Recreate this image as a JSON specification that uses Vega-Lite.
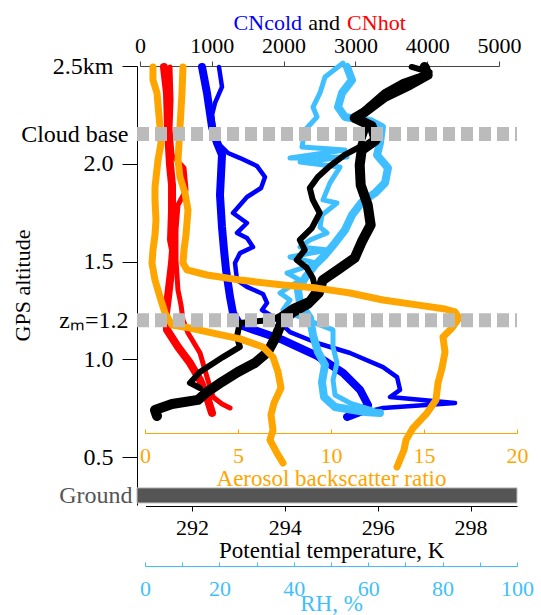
{
"$schema": "https://vega.github.io/schema/vega-lite/v6.json",
"width": 380,
"height": 439,
"autosize": {"type": "none"},
"padding": {"left": 137, "top": 66, "right": 24, "bottom": 110},
"background": "white",
"config": {
  "font": "Liberation Serif, Times New Roman, serif",
  "view": {"stroke": null},
  "style": {"guide-label": {"font": "Liberation Serif, Times New Roman, serif"}, "guide-title": {"font": "Liberation Serif, Times New Roman, serif"}},
  "axis": {"labelFont": "Liberation Serif, Times New Roman, serif", "titleFont": "Liberation Serif, Times New Roman, serif", "labelFontSize": 22, "titleFontSize": 23, "titleFontWeight": "normal", "grid": false, "labelColor": "black", "titleColor": "black", "domainColor": "black", "tickColor": "black", "labelFlush": false, "labelOverlap": false, "labelBound": false}
},
"datasets": {
  "cn": [
    {"s":"hot1","i":0,"v":334,"a":2.495},{"s":"hot1","i":1,"v":376,"a":2.362},{"s":"hot1","i":2,"v":390,"a":2.188},{"s":"hot1","i":3,"v":404,"a":2.086},{"s":"hot1","i":4,"v":418,"a":1.994},{"s":"hot1","i":5,"v":446,"a":1.891},{"s":"hot1","i":6,"v":446,"a":1.763},{"s":"hot1","i":7,"v":432,"a":1.610},{"s":"hot1","i":8,"v":460,"a":1.559},{"s":"hot1","i":9,"v":446,"a":1.492},{"s":"hot1","i":10,"v":418,"a":1.405},{"s":"hot1","i":11,"v":390,"a":1.318},{"s":"hot1","i":12,"v":362,"a":1.237},{"s":"hot1","i":13,"v":376,"a":1.150},{"s":"hot1","i":14,"v":529,"a":1.063},{"s":"hot1","i":15,"v":696,"a":0.981},{"s":"hot1","i":16,"v":836,"a":0.894},{"s":"hot1","i":17,"v":933,"a":0.807},{"s":"hot1","i":18,"v":1003,"a":0.725},
    {"s":"hot2","i":0,"v":418,"a":2.495},{"s":"hot2","i":1,"v":432,"a":2.326},{"s":"hot2","i":2,"v":418,"a":2.173},{"s":"hot2","i":3,"v":446,"a":2.045},{"s":"hot2","i":4,"v":613,"a":1.978},{"s":"hot2","i":5,"v":641,"a":1.866},{"s":"hot2","i":6,"v":529,"a":1.789},{"s":"hot2","i":7,"v":501,"a":1.661},{"s":"hot2","i":8,"v":501,"a":1.508},{"s":"hot2","i":9,"v":529,"a":1.354},{"s":"hot2","i":10,"v":571,"a":1.278},{"s":"hot2","i":11,"v":599,"a":1.201},{"s":"hot2","i":12,"v":669,"a":1.134},{"s":"hot2","i":13,"v":836,"a":1.032},{"s":"hot2","i":14,"v":933,"a":0.909},{"s":"hot2","i":15,"v":1017,"a":0.807},{"s":"hot2","i":16,"v":1142,"a":0.771},{"s":"hot2","i":17,"v":1254,"a":0.751},
    {"s":"cold1","i":0,"v":864,"a":2.495},{"s":"cold1","i":1,"v":933,"a":2.362},{"s":"cold1","i":2,"v":1003,"a":2.188},{"s":"cold1","i":3,"v":1073,"a":2.106},{"s":"cold1","i":4,"v":1142,"a":2.045},{"s":"cold1","i":5,"v":1128,"a":1.942},{"s":"cold1","i":6,"v":1114,"a":1.840},{"s":"cold1","i":7,"v":1142,"a":1.676},{"s":"cold1","i":8,"v":1170,"a":1.559},{"s":"cold1","i":9,"v":1198,"a":1.457},{"s":"cold1","i":10,"v":1254,"a":1.318},{"s":"cold1","i":11,"v":1295,"a":1.237},{"s":"cold1","i":12,"v":1393,"a":1.175},{"s":"cold1","i":13,"v":1672,"a":1.139},{"s":"cold1","i":14,"v":1992,"a":1.098},{"s":"cold1","i":15,"v":2466,"a":1.017},{"s":"cold1","i":16,"v":2828,"a":0.930},{"s":"cold1","i":17,"v":3065,"a":0.843},{"s":"cold1","i":18,"v":3176,"a":0.766},{"s":"cold1","i":19,"v":3065,"a":0.730},{"s":"cold1","i":20,"v":2884,"a":0.705},
    {"s":"cold2","i":0,"v":1100,"a":2.495},{"s":"cold2","i":1,"v":1142,"a":2.393},{"s":"cold2","i":2,"v":1045,"a":2.311},{"s":"cold2","i":3,"v":1003,"a":2.249},{"s":"cold2","i":4,"v":1031,"a":2.173},{"s":"cold2","i":5,"v":1114,"a":2.096},{"s":"cold2","i":6,"v":1226,"a":2.055},{"s":"cold2","i":7,"v":1393,"a":2.029},{"s":"cold2","i":8,"v":1630,"a":1.988},{"s":"cold2","i":9,"v":1741,"a":1.932},{"s":"cold2","i":10,"v":1686,"a":1.876},{"s":"cold2","i":11,"v":1490,"a":1.830},{"s":"cold2","i":12,"v":1295,"a":1.748},{"s":"cold2","i":13,"v":1490,"a":1.697},{"s":"cold2","i":14,"v":1351,"a":1.646},{"s":"cold2","i":15,"v":1490,"a":1.620},{"s":"cold2","i":16,"v":1574,"a":1.574},{"s":"cold2","i":17,"v":1393,"a":1.543},{"s":"cold2","i":18,"v":1323,"a":1.492},{"s":"cold2","i":19,"v":1351,"a":1.405},{"s":"cold2","i":20,"v":1490,"a":1.370},{"s":"cold2","i":21,"v":1713,"a":1.334},{"s":"cold2","i":22,"v":1769,"a":1.288},{"s":"cold2","i":23,"v":1699,"a":1.252},{"s":"cold2","i":24,"v":1881,"a":1.211},{"s":"cold2","i":25,"v":2090,"a":1.139},{"s":"cold2","i":26,"v":2466,"a":1.083},{"s":"cold2","i":27,"v":2925,"a":1.032},{"s":"cold2","i":28,"v":3385,"a":0.960},{"s":"cold2","i":29,"v":3580,"a":0.909},{"s":"cold2","i":30,"v":3622,"a":0.843},{"s":"cold2","i":31,"v":3482,"a":0.807},{"s":"cold2","i":32,"v":4388,"a":0.776},{"s":"cold2","i":33,"v":3385,"a":0.751},{"s":"cold2","i":34,"v":2884,"a":0.705}
  ],
  "rh": [
    {"s":"rh1","i":0,"v":54.30,"a":2.495},{"s":"rh1","i":1,"v":55.65,"a":2.428},{"s":"rh1","i":2,"v":52.96,"a":2.362},{"s":"rh1","i":3,"v":51.88,"a":2.290},{"s":"rh1","i":4,"v":53.76,"a":2.239},{"s":"rh1","i":5,"v":60.48,"a":2.219},{"s":"rh1","i":6,"v":63.71,"a":2.188},{"s":"rh1","i":7,"v":63.17,"a":2.106},{"s":"rh1","i":8,"v":62.37,"a":2.045},{"s":"rh1","i":9,"v":65.32,"a":1.978},{"s":"rh1","i":10,"v":64.52,"a":1.902},{"s":"rh1","i":11,"v":61.83,"a":1.850},{"s":"rh1","i":12,"v":58.33,"a":1.804},{"s":"rh1","i":13,"v":55.65,"a":1.738},{"s":"rh1","i":14,"v":53.76,"a":1.661},{"s":"rh1","i":15,"v":51.08,"a":1.595},{"s":"rh1","i":16,"v":48.39,"a":1.533},{"s":"rh1","i":17,"v":45.70,"a":1.482},{"s":"rh1","i":18,"v":43.01,"a":1.416},{"s":"rh1","i":19,"v":41.13,"a":1.354},{"s":"rh1","i":20,"v":41.67,"a":1.288},{"s":"rh1","i":21,"v":44.35,"a":1.211},{"s":"rh1","i":22,"v":45.16,"a":1.124},{"s":"rh1","i":23,"v":46.51,"a":1.037},{"s":"rh1","i":24,"v":48.39,"a":0.971},{"s":"rh1","i":25,"v":47.58,"a":0.884},{"s":"rh1","i":26,"v":48.12,"a":0.807},{"s":"rh1","i":27,"v":51.08,"a":0.756},{"s":"rh1","i":28,"v":59.14,"a":0.730},{"s":"rh1","i":29,"v":63.17,"a":0.725},
    {"s":"rh2","i":0,"v":53.23,"a":2.515},{"s":"rh2","i":1,"v":48.39,"a":2.444},{"s":"rh2","i":2,"v":47.04,"a":2.362},{"s":"rh2","i":3,"v":45.16,"a":2.290},{"s":"rh2","i":4,"v":46.24,"a":2.239},{"s":"rh2","i":5,"v":43.01,"a":2.173},{"s":"rh2","i":6,"v":42.20,"a":2.086},{"s":"rh2","i":7,"v":53.76,"a":2.070},{"s":"rh2","i":8,"v":38.98,"a":2.029},{"s":"rh2","i":9,"v":54.30,"a":2.035},{"s":"rh2","i":10,"v":41.67,"a":2.009},{"s":"rh2","i":11,"v":52.42,"a":1.983},{"s":"rh2","i":12,"v":49.73,"a":1.902},{"s":"rh2","i":13,"v":47.85,"a":1.815},{"s":"rh2","i":14,"v":51.61,"a":1.799},{"s":"rh2","i":15,"v":47.58,"a":1.738},{"s":"rh2","i":16,"v":47.04,"a":1.676},{"s":"rh2","i":17,"v":48.92,"a":1.646},{"s":"rh2","i":18,"v":44.35,"a":1.610},{"s":"rh2","i":19,"v":41.67,"a":1.574},{"s":"rh2","i":20,"v":49.19,"a":1.559},{"s":"rh2","i":21,"v":38.98,"a":1.523},{"s":"rh2","i":22,"v":46.24,"a":1.492},{"s":"rh2","i":23,"v":38.17,"a":1.441},{"s":"rh2","i":24,"v":41.67,"a":1.405},{"s":"rh2","i":25,"v":36.29,"a":1.339},{"s":"rh2","i":26,"v":38.98,"a":1.303},{"s":"rh2","i":27,"v":37.10,"a":1.252},{"s":"rh2","i":28,"v":43.55,"a":1.201},{"s":"rh2","i":29,"v":50.54,"a":1.150},{"s":"rh2","i":30,"v":50.54,"a":1.063},{"s":"rh2","i":31,"v":51.61,"a":0.981},{"s":"rh2","i":32,"v":50.54,"a":0.894},{"s":"rh2","i":33,"v":51.08,"a":0.817},{"s":"rh2","i":34,"v":55.11,"a":0.776},{"s":"rh2","i":35,"v":61.29,"a":0.740}
  ],
  "th": [
    {"s":"th1","i":0,"v":297.011,"a":2.495},{"s":"th1","i":1,"v":297.075,"a":2.454},{"s":"th1","i":2,"v":296.688,"a":2.403},{"s":"th1","i":3,"v":296.151,"a":2.341},{"s":"th1","i":4,"v":295.720,"a":2.265},{"s":"th1","i":5,"v":295.505,"a":2.234},{"s":"th1","i":6,"v":295.871,"a":2.193},{"s":"th1","i":7,"v":295.957,"a":2.121},{"s":"th1","i":8,"v":295.656,"a":2.070},{"s":"th1","i":9,"v":295.613,"a":1.994},{"s":"th1","i":10,"v":295.634,"a":1.891},{"s":"th1","i":11,"v":295.785,"a":1.789},{"s":"th1","i":12,"v":295.849,"a":1.687},{"s":"th1","i":13,"v":295.656,"a":1.600},{"s":"th1","i":14,"v":295.505,"a":1.518},{"s":"th1","i":15,"v":295.140,"a":1.457},{"s":"th1","i":16,"v":294.817,"a":1.405},{"s":"th1","i":17,"v":294.731,"a":1.339},{"s":"th1","i":18,"v":294.495,"a":1.283},{"s":"th1","i":19,"v":294.151,"a":1.237},{"s":"th1","i":20,"v":293.935,"a":1.191},{"s":"th1","i":21,"v":293.806,"a":1.114},{"s":"th1","i":22,"v":293.634,"a":1.037},{"s":"th1","i":23,"v":293.355,"a":0.981},{"s":"th1","i":24,"v":292.989,"a":0.935},{"s":"th1","i":25,"v":292.645,"a":0.884},{"s":"th1","i":26,"v":292.323,"a":0.832},{"s":"th1","i":27,"v":292.129,"a":0.792},{"s":"th1","i":28,"v":291.570,"a":0.771},{"s":"th1","i":29,"v":291.204,"a":0.740},{"s":"th1","i":30,"v":291.247,"a":0.710},
    {"s":"th2","i":0,"v":296.731,"a":2.495},{"s":"th2","i":1,"v":297.118,"a":2.469},{"s":"th2","i":2,"v":296.860,"a":2.444},{"s":"th2","i":3,"v":296.538,"a":2.418},{"s":"th2","i":4,"v":296.151,"a":2.367},{"s":"th2","i":5,"v":295.828,"a":2.301},{"s":"th2","i":6,"v":295.548,"a":2.239},{"s":"th2","i":7,"v":295.785,"a":2.203},{"s":"th2","i":8,"v":295.613,"a":2.086},{"s":"th2","i":9,"v":295.290,"a":2.045},{"s":"th2","i":10,"v":294.968,"a":1.988},{"s":"th2","i":11,"v":294.710,"a":1.932},{"s":"th2","i":12,"v":294.538,"a":1.876},{"s":"th2","i":13,"v":294.602,"a":1.815},{"s":"th2","i":14,"v":294.753,"a":1.748},{"s":"th2","i":15,"v":294.581,"a":1.671},{"s":"th2","i":16,"v":294.323,"a":1.610},{"s":"th2","i":17,"v":294.430,"a":1.559},{"s":"th2","i":18,"v":294.258,"a":1.508},{"s":"th2","i":19,"v":294.473,"a":1.467},{"s":"th2","i":20,"v":294.602,"a":1.416},{"s":"th2","i":21,"v":294.667,"a":1.354},{"s":"th2","i":22,"v":294.516,"a":1.303},{"s":"th2","i":23,"v":294.172,"a":1.267},{"s":"th2","i":24,"v":293.892,"a":1.221},{"s":"th2","i":25,"v":293.720,"a":1.201},{"s":"th2","i":26,"v":293.032,"a":1.186},{"s":"th2","i":27,"v":292.968,"a":1.114},{"s":"th2","i":28,"v":293.032,"a":1.063},{"s":"th2","i":29,"v":292.667,"a":1.011},{"s":"th2","i":30,"v":292.172,"a":0.935},{"s":"th2","i":31,"v":291.957,"a":0.879},{"s":"th2","i":32,"v":292.172,"a":0.853}
  ],
  "aer": [
    {"s":"A","i":0,"v":0.43,"a":2.495},{"s":"A","i":1,"v":0.43,"a":2.428},{"s":"A","i":2,"v":0.645,"a":2.362},{"s":"A","i":3,"v":0.806,"a":2.188},{"s":"A","i":4,"v":0.86,"a":2.106},{"s":"A","i":5,"v":0.699,"a":2.019},{"s":"A","i":6,"v":0.538,"a":1.881},{"s":"A","i":7,"v":0.538,"a":1.815},{"s":"A","i":8,"v":0.591,"a":1.712},{"s":"A","i":9,"v":0.538,"a":1.636},{"s":"A","i":10,"v":0.43,"a":1.559},{"s":"A","i":11,"v":0.376,"a":1.492},{"s":"A","i":12,"v":0.538,"a":1.405},{"s":"A","i":13,"v":0.806,"a":1.318},{"s":"A","i":14,"v":1.075,"a":1.237},{"s":"A","i":15,"v":1.452,"a":1.175},{"s":"A","i":16,"v":2.419,"a":1.160},{"s":"A","i":17,"v":3.656,"a":1.134},{"s":"A","i":18,"v":5.108,"a":1.104},{"s":"A","i":19,"v":6.344,"a":1.063},{"s":"A","i":20,"v":6.882,"a":1.011},{"s":"A","i":21,"v":7.151,"a":0.935},{"s":"A","i":22,"v":7.312,"a":0.853},{"s":"A","i":23,"v":6.935,"a":0.776},{"s":"A","i":24,"v":6.774,"a":0.715},{"s":"A","i":25,"v":6.882,"a":0.638},{"s":"A","i":26,"v":6.72,"a":0.587},{"s":"A","i":27,"v":7.097,"a":0.520},{"s":"A","i":28,"v":7.419,"a":0.469},
    {"s":"B","i":0,"v":2.043,"a":2.495},{"s":"B","i":1,"v":1.989,"a":2.362},{"s":"B","i":2,"v":1.882,"a":2.188},{"s":"B","i":3,"v":1.774,"a":2.019},{"s":"B","i":4,"v":1.882,"a":1.932},{"s":"B","i":5,"v":2.151,"a":1.850},{"s":"B","i":6,"v":2.312,"a":1.763},{"s":"B","i":7,"v":2.204,"a":1.636},{"s":"B","i":8,"v":2.097,"a":1.559},{"s":"B","i":9,"v":2.043,"a":1.492},{"s":"B","i":10,"v":2.258,"a":1.457},{"s":"B","i":11,"v":3.333,"a":1.431},{"s":"B","i":12,"v":5.108,"a":1.405},{"s":"B","i":13,"v":7.419,"a":1.380},{"s":"B","i":14,"v":9.247,"a":1.364},{"s":"B","i":15,"v":11.022,"a":1.339},{"s":"B","i":16,"v":12.796,"a":1.303},{"s":"B","i":17,"v":14.624,"a":1.278},{"s":"B","i":18,"v":16.129,"a":1.257},{"s":"B","i":19,"v":16.667,"a":1.242},{"s":"B","i":20,"v":16.882,"a":1.211},{"s":"B","i":21,"v":16.505,"a":1.160},{"s":"B","i":22,"v":16.022,"a":1.114},{"s":"B","i":23,"v":16.129,"a":1.037},{"s":"B","i":24,"v":15.968,"a":0.955},{"s":"B","i":25,"v":15.753,"a":0.879},{"s":"B","i":26,"v":15.645,"a":0.792},{"s":"B","i":27,"v":15.161,"a":0.725},{"s":"B","i":28,"v":14.409,"a":0.648},{"s":"B","i":29,"v":14.032,"a":0.587},{"s":"B","i":30,"v":13.925,"a":0.536},{"s":"B","i":31,"v":13.548,"a":0.449}
  ]
},
"layer": [
  {
    "layer": [
      {
        "data": {"name": "cn"},
        "mark": {"type": "line", "strokeJoin": "round", "strokeCap": "round"},
        "encoding": {
          "x": {"field": "v", "type": "quantitative", "scale": {"domain": [0, 5000], "range": [3, 362]},
            "axis": {"orient": "top", "values": [0, 1000, 2000, 3000, 4000, 5000], "format": "d", "tickSize": 5, "labelPadding": 4, "title": null, "domainColor": "#444444", "tickColor": "#444444", "labelFlush": false, "labelFont": "Liberation Serif, Times New Roman, serif"}},
          "y": {"field": "a", "type": "quantitative", "scale": {"domain": [0.2545, 2.5]},
            "axis": {"orient": "left", "values": [0.303, 0.5, 1, 1.2, 1.5, 2, 2.152, 2.5],
              "labelExpr": "datum.value < 0.4 ? 'Ground' : abs(datum.value - 2.152) < 0.01 ? 'Cloud base' : abs(datum.value - 1.2) < 0.01 ? 'zₘ=1.2' : datum.value == 2.5 ? '2.5km' : format(datum.value, '.1f')",
              "tickSize": {"condition": {"test": "datum.value < 0.4 || abs(datum.value - 1.2) < 0.01 || abs(datum.value - 2.152) < 0.01", "value": 0}, "value": 15},
              "labelPadding": {"condition": {"test": "datum.value < 0.4", "value": 5}, "value": 9},
              "labelColor": {"condition": {"test": "datum.value < 0.4", "value": "#555555"}, "value": "black"},
              "labelBaseline": "middle", "labelFontSize": 24, "titleFontSize": 22,
              "labelFont": "Liberation Serif, Times New Roman, serif", "titleFont": "Liberation Serif, Times New Roman, serif",
              "title": "GPS altitude", "titleX": -115, "titleY": 219, "titleBaseline": "middle"}},
          "order": {"field": "i", "type": "quantitative"},
          "color": {"field": "s", "type": "nominal", "scale": {"domain": ["hot1", "hot2", "cold1", "cold2"], "range": ["#FF0000", "#FF0000", "#0000FF", "#0000FF"]}, "legend": null},
          "size": {"field": "s", "type": "nominal", "scale": {"type": "ordinal", "domain": ["hot1", "hot2", "cold1", "cold2"], "range": [8, 5, 8, 4.5]}, "legend": null}
        }
      },
      {
        "data": {"values": [{}]},
        "mark": {"type": "text", "font": "Liberation Serif, Times New Roman, serif", "fontSize": 22, "align": "right", "baseline": "alphabetic", "color": "#0000FF"},
        "encoding": {
          "x": {"datum": 2257, "type": "quantitative", "scale": {"domain": [0, 5000], "range": [3, 362]}},
          "y": {"datum": 2.684, "type": "quantitative", "scale": {"domain": [0.2545, 2.5]}},
          "text": {"value": "CNcold"}
        }
      },
      {
        "data": {"values": [{}]},
        "mark": {"type": "text", "font": "Liberation Serif, Times New Roman, serif", "fontSize": 22, "align": "center", "baseline": "alphabetic", "color": "black"},
        "encoding": {
          "x": {"datum": 2563, "type": "quantitative", "scale": {"domain": [0, 5000], "range": [3, 362]}},
          "y": {"datum": 2.684, "type": "quantitative", "scale": {"domain": [0.2545, 2.5]}},
          "text": {"value": "and"}
        }
      },
      {
        "data": {"values": [{}]},
        "mark": {"type": "text", "font": "Liberation Serif, Times New Roman, serif", "fontSize": 22, "align": "left", "baseline": "alphabetic", "color": "#FF0000"},
        "encoding": {
          "x": {"datum": 2884, "type": "quantitative", "scale": {"domain": [0, 5000], "range": [3, 362]}},
          "y": {"datum": 2.684, "type": "quantitative", "scale": {"domain": [0.2545, 2.5]}},
          "text": {"value": "CNhot"}
        }
      }
    ]
  },
  {
    "data": {"name": "rh"},
    "mark": {"type": "line", "strokeJoin": "round", "strokeCap": "round", "color": "#3FBFFF"},
    "encoding": {
      "x": {"field": "v", "type": "quantitative", "scale": {"domain": [0, 100], "range": [8, 380]},
        "axis": {"orient": "bottom", "offset": 61, "values": [0, 10, 20, 30, 40, 50, 60, 70, 80, 90, 100], "labelExpr": "datum.value % 20 == 0 ? datum.label : ''", "tickSize": -4, "labelPadding": 16, "title": "RH, %", "titleY": 44, "titleBaseline": "alphabetic", "domainColor": "#3FBFFF", "tickColor": "#3FBFFF", "labelColor": "#3FBFFF", "titleColor": "#3FBFFF", "labelFlush": false, "labelFont": "Liberation Serif, Times New Roman, serif", "titleFont": "Liberation Serif, Times New Roman, serif"}},
      "y": {"field": "a", "type": "quantitative", "scale": {"domain": [0.2545, 2.5]}},
      "order": {"field": "i", "type": "quantitative"},
      "detail": {"field": "s"},
      "size": {"field": "s", "type": "nominal", "scale": {"type": "ordinal", "domain": ["rh1", "rh2"], "range": [8, 5]}, "legend": null}
    }
  },
  {
    "data": {"name": "th"},
    "mark": {"type": "line", "strokeJoin": "round", "strokeCap": "round", "color": "black"},
    "encoding": {
      "x": {"field": "v", "type": "quantitative", "scale": {"domain": [291, 299], "range": [8.5, 380]},
        "axis": {"orient": "bottom", "offset": 1, "values": [292, 294, 296, 298], "tickSize": 5, "labelPadding": 6, "title": "Potential temperature, K", "titleY": 51, "titleBaseline": "alphabetic", "labelFlush": false, "labelFont": "Liberation Serif, Times New Roman, serif", "titleFont": "Liberation Serif, Times New Roman, serif"}},
      "y": {"field": "a", "type": "quantitative", "scale": {"domain": [0.2545, 2.5]}},
      "order": {"field": "i", "type": "quantitative"},
      "detail": {"field": "s"},
      "size": {"field": "s", "type": "nominal", "scale": {"type": "ordinal", "domain": ["th1", "th2"], "range": [10, 6]}, "legend": null}
    }
  },
  {
    "layer": [
      {
        "data": {"name": "aer"},
        "mark": {"type": "line", "strokeJoin": "round", "strokeCap": "round", "color": "#FFA500", "strokeWidth": 7},
        "encoding": {
          "x": {"field": "v", "type": "quantitative", "scale": {"domain": [0, 20], "range": [8, 380]},
            "axis": {"orient": "bottom", "offset": -72, "values": [0, 5, 10, 15, 20], "tickSize": -4, "labelPadding": 16, "title": "Aerosol backscatter ratio", "titleY": 52, "titleBaseline": "alphabetic", "domainColor": "#FFA500", "tickColor": "#FFA500", "labelColor": "#FFA500", "titleColor": "#FFA500", "labelFlush": false, "labelFont": "Liberation Serif, Times New Roman, serif", "titleFont": "Liberation Serif, Times New Roman, serif"}},
          "y": {"field": "a", "type": "quantitative", "scale": {"domain": [0.2545, 2.5]}},
          "order": {"field": "i", "type": "quantitative"},
          "detail": {"field": "s"}
        }
      },
      {
        "data": {"values": [{"level": 2.152}, {"level": 1.2}]},
        "mark": {"type": "rule", "color": "#BBBBBB", "strokeWidth": 14, "strokeDash": [12, 6], "strokeCap": "butt"},
        "encoding": {
          "x": {"datum": -0.43, "type": "quantitative", "scale": {"domain": [0, 20], "range": [8, 380]}},
          "x2": {"datum": 20},
          "y": {"field": "level", "type": "quantitative", "scale": {"domain": [0.2545, 2.5]}}
        }
      },
      {
        "data": {"values": [{"lo": 0.265, "hi": 0.342}]},
        "mark": {"type": "rect", "fill": "#555555", "stroke": "#BBBBBB", "strokeWidth": 1},
        "encoding": {
          "x": {"datum": -0.43, "type": "quantitative", "scale": {"domain": [0, 20], "range": [8, 380]}},
          "x2": {"datum": 20},
          "y": {"field": "hi", "type": "quantitative", "scale": {"domain": [0.2545, 2.5]}},
          "y2": {"field": "lo"}
        }
      }
    ]
  }
],
"resolve": {"scale": {"x": "independent", "size": "independent", "color": "independent"}, "axis": {"x": "independent"}}
}
